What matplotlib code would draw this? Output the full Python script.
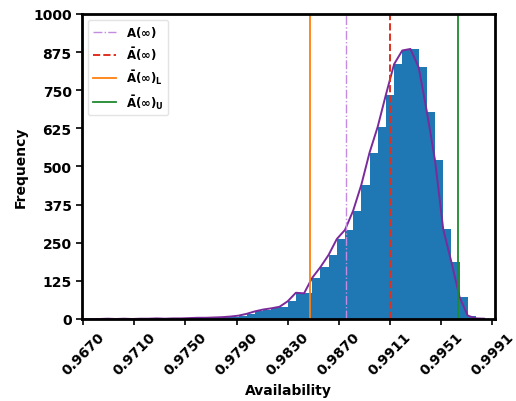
import numpy as np
import matplotlib
matplotlib.use("Agg")
import matplotlib.pyplot as plt

# Histogram of simulated steady-state availability (50 equal-width bins)
bin_lo = 0.96698
bin_hi = 0.99908
counts = [
    0, 0, 0, 1, 0, 1, 0, 1, 1, 2,
    1, 2, 2, 3, 4, 4, 5, 6, 8, 11,
    17, 25, 31, 35, 40, 58, 86, 84, 135, 170,
    210, 262, 292, 355, 440, 545, 630, 735, 835, 880,
    885, 825, 680, 520, 295, 187, 72, 11, 2, 1,
]

# Reference availability values drawn as vertical lines
a_inf = 0.98757
a_bar = 0.99105
a_bar_lower = 0.98481
a_bar_upper = 0.99636

x_tick_labels = ["0.9670", "0.9710", "0.9750", "0.9790", "0.9830",
                 "0.9870", "0.9911", "0.9951", "0.9991"]
y_tick_labels = ["0", "125", "250", "375", "500", "625", "750", "875", "1000"]

edges = np.linspace(bin_lo, bin_hi, len(counts) + 1)
width = edges[1] - edges[0]

fig = plt.figure(figsize=(5.16, 4.02), dpi=100)
ax = fig.add_axes([0.159, 0.204, 0.800, 0.759])

ax.bar(edges[:-1], counts, width=width, align="edge", color="#1f77b4")
ax.plot(edges[:-1], counts, color="#7b2a9b", linewidth=1.4)

ax.axvline(a_inf, color="#c58be0", linestyle="-.", linewidth=1.0, label=r"$\mathbf{A(\infty)}$")
ax.axvline(a_bar, color="#e0301e", linestyle="--", linewidth=1.4, label=r"$\mathbf{\bar{A}(\infty)}$")
ax.axvline(a_bar_lower, color="#ff7f0e", linestyle="-", linewidth=1.3, label=r"$\mathbf{\bar{A}(\infty)_L}$")
ax.axvline(a_bar_upper, color="#1e8a2e", linestyle="-", linewidth=1.3, label=r"$\mathbf{\bar{A}(\infty)_U}$")

ax.set_xlim(0.96690, 0.99928)
ax.set_ylim(0, 1000)
ax.set_xticks(np.linspace(bin_lo, bin_hi, len(x_tick_labels)))
ax.set_xticklabels(x_tick_labels, rotation=45, fontweight="bold", fontsize=10)
ax.set_yticks(np.linspace(0, 1000, len(y_tick_labels)))
ax.set_yticklabels(y_tick_labels, fontweight="bold", fontsize=10)

ax.set_xlabel("Availability", fontweight="bold", fontsize=10)
ax.set_ylabel("Frequency", fontweight="bold", fontsize=10)

for s in ax.spines.values():
    s.set_linewidth(2.0)
ax.tick_params(width=1.2, length=4)

ax.legend(loc="upper left", fontsize=8.5, prop={"weight": "bold", "size": 8.5},
          framealpha=0.8, edgecolor="#dddddd")

fig.savefig("out.png", dpi=100)
